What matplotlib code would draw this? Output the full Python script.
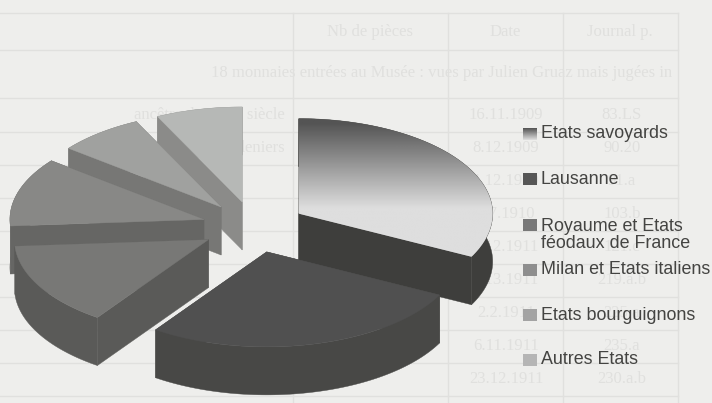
"""
Exploded 3D pie: origin of the coins, with the legend on the right.
All drawing is done in pixel-like units on one full-figure axes.
"""
import numpy as np
import matplotlib
matplotlib.use('Agg')
import matplotlib.pyplot as plt
from matplotlib.patches import Polygon, Rectangle

# ─── Data ────────────────────────────────────────────────────────────────────
labels = ["Etats savoyards", "Lausanne", "Royaume et Etats\nféodaux de France",
          "Milan et Etats italiens", "Etats bourguignons", "Autres Etats"]
shares = [32.5, 27.2, 14.2, 11.7, 7.2, 7.2]

top_colors = ['#dcdedc', '#505050', '#787876', '#888886', '#a0a19f', '#b6b8b6']
side_colors = ['#3e3e3c', '#484846', '#5a5a58', '#666664', '#777775', '#8b8b89']
key_colors = ['#888888', '#565656', '#787878', '#8e8e8e', '#a3a3a3', '#b5b5b5']

# Table printed on the other side of the sheet
ghost_header = ["Nb de pièces", "Date", "Journal p."]
ghost_span = "18 monnaies entrées au Musée : vues par Julien Gruaz mais jugées in"
ghost_dates = ["16.11.1909", "8.12.1909", "1.12.1910", "7.7.1910", "5.12.1911",
               "4.13.1911", "2.2.1911", "6.11.1911", "23.12.1911"]
ghost_refs = ["83.LS", "90.20", "91.a", "103.b", "121.c", "219.a.b", "225.a",
              "235.a", "230.a.b"]
ghost_notes = ["ancêtre du XIIIe siècle", "deux deniers"]

# ─── Layout ──────────────────────────────────────────────────────────────────
BG = '#eeeeec'
GHOST = '#e0e0de'
CX, CY = 254, 227      # pie centre
RX, RY = 194, 95       # ellipse radii of the tilted disc
DEPTH = 48             # thickness of the disc
EXPLODE = 0.27         # fraction of the radius each slice is pulled out
DRAW_ORDER = [5, 4, 3, 0, 2, 1]  # back to front


def ellipse_pts(angles, ox, oy, drop=0):
    """Points on the ellipse; angle in degrees, clockwise from 12 o'clock."""
    t = np.radians(angles)
    return np.column_stack([ox + RX * np.sin(t), oy - RY * np.cos(t) + drop])


def draw_slice(ax, start, end, side):
    """Draw the walls of one slice and return the outline of its top surface."""
    mid = np.radians((start + end) / 2)
    ox = CX + EXPLODE * RX * np.sin(mid)
    oy = CY - EXPLODE * RY * np.cos(mid)
    angles = np.linspace(start, end, 80)
    rim = ellipse_pts(angles, ox, oy)
    rim_low = ellipse_pts(angles, ox, oy, DEPTH)
    apex = np.array([[ox, oy]])
    apex_low = np.array([[ox, oy + DEPTH]])

    # both cut faces and the outer wall, the top surface covers what is hidden
    for a, b in [(rim[:1], rim_low[:1]), (rim[-1:], rim_low[-1:])]:
        face = np.vstack([apex, a, b, apex_low])
        ax.add_patch(Polygon(face, closed=True, fc=side, ec=side, lw=0.3, zorder=2))
    wall = np.vstack([rim, rim_low[::-1]])
    ax.add_patch(Polygon(wall, closed=True, fc=side, ec=side, lw=0.3, zorder=2))

    return np.vstack([apex, rim])


def gradient_fill(ax, outline, y_dark, y_light):
    """Vertical dark-to-light ramp clipped to the slice outline."""
    y0, y1 = outline[:, 1].min(), outline[:, 1].max()
    rows = np.linspace(y0, y1, 256)
    ramp = 0.33 + 0.54 * np.clip((rows - y_dark) / (y_light - y_dark), 0, 1)
    x0, x1 = outline[:, 0].min(), outline[:, 0].max()
    im = ax.imshow(ramp.reshape(-1, 1), extent=(x0, x1, y1, y0), cmap='gray',
                   vmin=0, vmax=1, aspect='auto', interpolation='bilinear', zorder=2)
    im.set_clip_path(Polygon(outline, closed=True, transform=ax.transData))
    return im


fig = plt.figure(figsize=(7.12, 4.03), dpi=100, facecolor=BG)
ax = fig.add_axes([0, 0, 1, 1])
ax.axis('off')

# ─── Show-through table ──────────────────────────────────────────────────────
for y in [13, 50, 98, 132, 165, 198, 231, 264, 297, 330, 363, 396]:
    ax.plot([0, 678], [y, y], color=GHOST, lw=1.0, zorder=0)
for x in [293, 448, 563, 678]:
    ax.plot([x, x], [13, 403], color=GHOST, lw=1.0, zorder=0)
for x, txt in zip([370, 505, 620], ghost_header):
    ax.text(x, 32, txt, ha='center', va='center', family='Liberation Serif',
            fontsize=12, color=GHOST, zorder=0)
ax.text(672, 73, ghost_span, ha='right', va='center', family='Liberation Serif',
        fontsize=12, color=GHOST, zorder=0)
for i, (d, r) in enumerate(zip(ghost_dates, ghost_refs)):
    y = 115 + 33 * i
    ax.text(506, y, d, ha='center', va='center', family='Liberation Serif',
            fontsize=12, color=GHOST, zorder=0)
    ax.text(622, y, r, ha='center', va='center', family='Liberation Serif',
            fontsize=12, color=GHOST, zorder=0)
for i, note in enumerate(ghost_notes):
    ax.text(285, 115 + 33 * i, note, ha='right', va='center',
            family='Liberation Serif', fontsize=12, color=GHOST, zorder=0)

# ─── Pie ─────────────────────────────────────────────────────────────────────
edges = np.concatenate([[0], np.cumsum(shares)]) / np.sum(shares) * 360
for i in DRAW_ORDER:
    outline = draw_slice(ax, edges[i], edges[i + 1], side_colors[i])
    if i == 0:
        gradient_fill(ax, outline, outline[:, 1].min() + 5, outline[0, 1] - 5)
    else:
        ax.add_patch(Polygon(outline, closed=True, fc=top_colors[i],
                             ec=top_colors[i], lw=0.3, zorder=2))

# ─── Legend ──────────────────────────────────────────────────────────────────
key_y = [134, 179, 225, 270, 315, 360]
text_y = [134, 179, 235, 269, 315, 360]
for i, (lab, ky, ty) in enumerate(zip(labels, key_y, text_y)):
    if i == 0:
        ramp = np.linspace(0.33, 0.87, 32).reshape(-1, 1)
        ax.imshow(ramp, extent=(523, 537, ky + 6, ky - 6), cmap='gray', vmin=0, vmax=1,
                  aspect='auto', zorder=4)
    else:
        ax.add_patch(Rectangle((523, ky - 6), 14, 12, fc=key_colors[i], ec='none', zorder=4))
    ax.text(541, ty, lab, ha='left', va='center', family='Liberation Sans',
            fontsize=12.9, color='#444442', linespacing=0.95, zorder=5)

# imshow resets the limits, so they are set last
ax.set_xlim(0, 712)
ax.set_ylim(403, 0)

fig.savefig('out.png', dpi=100, facecolor=BG)
